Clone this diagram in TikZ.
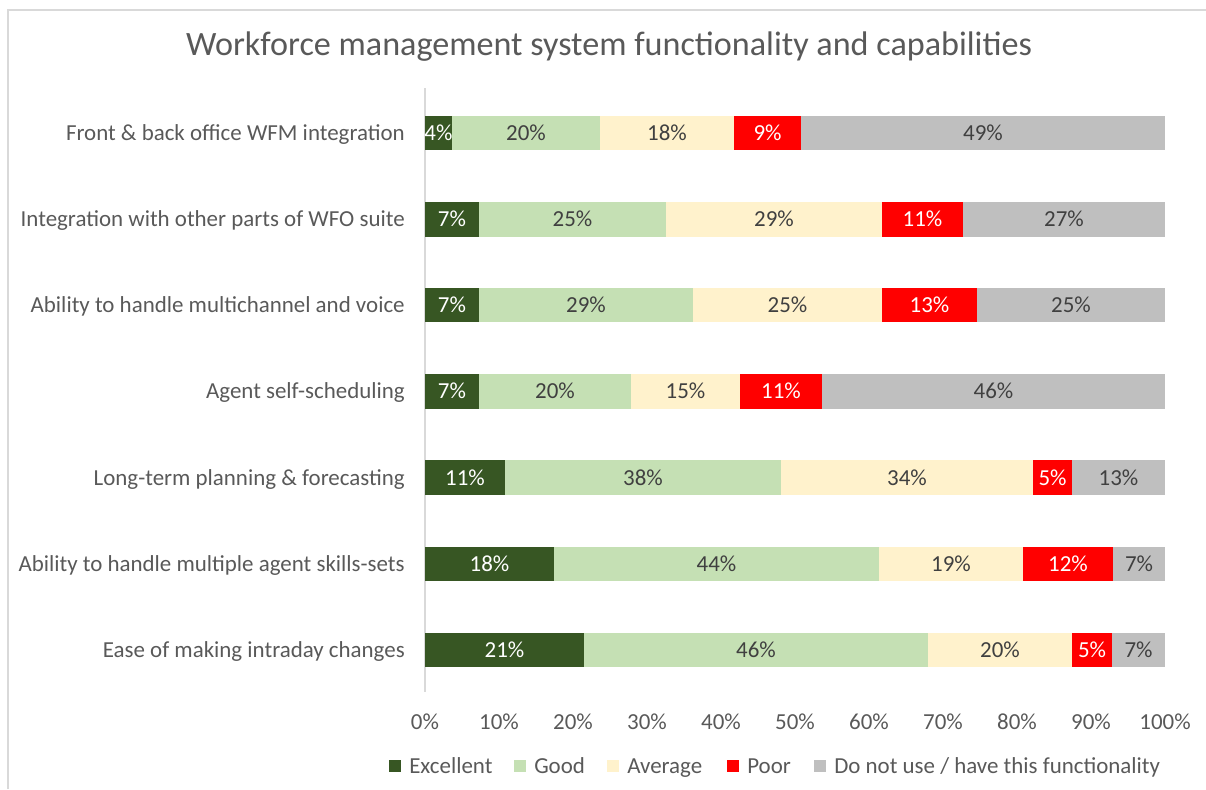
\documentclass[tikz,border=0pt]{standalone}
\usepackage{fontspec}
\setmainfont{Carlito}
\definecolor{excgreen}{HTML}{375623}
\definecolor{goodgreen}{HTML}{C5E0B4}
\definecolor{avgcream}{HTML}{FFF2CC}
\definecolor{poorred}{HTML}{FF0000}
\definecolor{nousegray}{HTML}{BFBFBF}
\definecolor{txtgray}{HTML}{595959}
\definecolor{valdark}{HTML}{404040}
\definecolor{framegray}{HTML}{D9D9D9}
\tikzset{
  exc/.style={fill=excgreen},
  good/.style={fill=goodgreen},
  avg/.style={fill=avgcream},
  poor/.style={fill=poorred},
  nouse/.style={fill=nousegray},
  lbl/.style={inner sep=0pt, text height=11.3pt, text depth=0pt},
  vw/.style={lbl, text=white},
  vd/.style={lbl, text=valdark},
  cat/.style={lbl, text=txtgray, anchor=east},
  tick/.style={lbl, text=txtgray},
  key/.style={text=txtgray, anchor=base west, inner sep=0pt},
}
\begin{document}
\begin{tikzpicture}[x=0.75pt, y=-0.75pt, font=\fontsize{17.2}{20}\selectfont]
  \useasboundingbox (0,0) rectangle (1206,789);
  \draw[framegray, line width=1.5] (8,789) -- (8,10) -- (1206,10);

  \node[text=txtgray, font=\fontsize{25.6}{30}\selectfont] (title) at (609,47) {Workforce management system functionality and capabilities};

  % value axis
  \draw[framegray, line width=1.2] (425,88) -- (425,692);
  \node[tick] (t0) at (425,722) {0\%};
  \node[tick] (t10) at (499,722) {10\%};
  \node[tick] (t20) at (573,722) {20\%};
  \node[tick] (t30) at (647,722) {30\%};
  \node[tick] (t40) at (721,722) {40\%};
  \node[tick] (t50) at (795,722) {50\%};
  \node[tick] (t60) at (869,722) {60\%};
  \node[tick] (t70) at (943,722) {70\%};
  \node[tick] (t80) at (1017,722) {80\%};
  \node[tick] (t90) at (1091,722) {90\%};
  \node[tick] (t100) at (1165,722) {100\%};

  % categories
  \node[cat] (c1) at (405,133) {Front \& back office WFM integration};
  \node[cat] (c2) at (405,219.3) {Integration with other parts of WFO suite};
  \node[cat] (c3) at (405,305.2) {Ability to handle multichannel and voice};
  \node[cat] (c4) at (405,391.3) {Agent self-scheduling};
  \node[cat] (c5) at (405,477.6) {Long-term planning \& forecasting};
  \node[cat] (c6) at (405,563.9) {Ability to handle multiple agent skills-sets};
  \node[cat] (c7) at (405,650) {Ease of making intraday changes};

  % bars
  \fill[exc] (425,115.8) rectangle (452,150.2) node[vw] (b1a) at (438.5,133) {4\%};
  \fill[good] (452,115.8) rectangle (600,150.2) node[vd] (b1b) at (526,133) {20\%};
  \fill[avg] (600,115.8) rectangle (734,150.2) node[vd] (b1c) at (667,133) {18\%};
  \fill[poor] (734,115.8) rectangle (801,150.2) node[vw] (b1d) at (767.5,133) {9\%};
  \fill[nouse] (801,115.8) rectangle (1165,150.2) node[vd] (b1e) at (983,133) {49\%};

  \fill[exc] (425,202.1) rectangle (479,236.5) node[vw] (b2a) at (452,219.3) {7\%};
  \fill[good] (479,202.1) rectangle (666,236.5) node[vd] (b2b) at (572.5,219.3) {25\%};
  \fill[avg] (666,202.1) rectangle (882,236.5) node[vd] (b2c) at (774,219.3) {29\%};
  \fill[poor] (882,202.1) rectangle (963,236.5) node[vw] (b2d) at (922.5,219.3) {11\%};
  \fill[nouse] (963,202.1) rectangle (1165,236.5) node[vd] (b2e) at (1064,219.3) {27\%};

  \fill[exc] (425,288) rectangle (479,322.4) node[vw] (b3a) at (452,305.2) {7\%};
  \fill[good] (479,288) rectangle (693,322.4) node[vd] (b3b) at (586,305.2) {29\%};
  \fill[avg] (693,288) rectangle (882,322.4) node[vd] (b3c) at (787.5,305.2) {25\%};
  \fill[poor] (882,288) rectangle (977,322.4) node[vw] (b3d) at (929.5,305.2) {13\%};
  \fill[nouse] (977,288) rectangle (1165,322.4) node[vd] (b3e) at (1071,305.2) {25\%};

  \fill[exc] (425,374.1) rectangle (479,408.5) node[vw] (b4a) at (452,391.3) {7\%};
  \fill[good] (479,374.1) rectangle (631,408.5) node[vd] (b4b) at (555,391.3) {20\%};
  \fill[avg] (631,374.1) rectangle (740,408.5) node[vd] (b4c) at (685.5,391.3) {15\%};
  \fill[poor] (740,374.1) rectangle (822,408.5) node[vw] (b4d) at (781,391.3) {11\%};
  \fill[nouse] (822,374.1) rectangle (1165,408.5) node[vd] (b4e) at (993.5,391.3) {46\%};

  \fill[exc] (425,460.4) rectangle (505,494.8) node[vw] (b5a) at (465,477.6) {11\%};
  \fill[good] (505,460.4) rectangle (781,494.8) node[vd] (b5b) at (643,477.6) {38\%};
  \fill[avg] (781,460.4) rectangle (1033,494.8) node[vd] (b5c) at (907,477.6) {34\%};
  \fill[poor] (1033,460.4) rectangle (1072,494.8) node[vw] (b5d) at (1052.5,477.6) {5\%};
  \fill[nouse] (1072,460.4) rectangle (1165,494.8) node[vd] (b5e) at (1118.5,477.6) {13\%};

  \fill[exc] (425,546.7) rectangle (554,581.1) node[vw] (b6a) at (489.5,563.9) {18\%};
  \fill[good] (554,546.7) rectangle (879,581.1) node[vd] (b6b) at (716.5,563.9) {44\%};
  \fill[avg] (879,546.7) rectangle (1023,581.1) node[vd] (b6c) at (951,563.9) {19\%};
  \fill[poor] (1023,546.7) rectangle (1113,581.1) node[vw] (b6d) at (1068,563.9) {12\%};
  \fill[nouse] (1113,546.7) rectangle (1165,581.1) node[vd] (b6e) at (1139,563.9) {7\%};

  \fill[exc] (425,632.8) rectangle (584,667.2) node[vw] (b7a) at (504.5,650) {21\%};
  \fill[good] (584,632.8) rectangle (928,667.2) node[vd] (b7b) at (756,650) {46\%};
  \fill[avg] (928,632.8) rectangle (1072,667.2) node[vd] (b7c) at (1000,650) {20\%};
  \fill[poor] (1072,632.8) rectangle (1112,667.2) node[vw] (b7d) at (1092,650) {5\%};
  \fill[nouse] (1112,632.8) rectangle (1165,667.2) node[vd] (b7e) at (1138.5,650) {7\%};

  % legend
  \fill[exc] (389,760) rectangle (401,772);
  \node[key] (k1) at (409,773) {Excellent};
  \fill[good] (514,760) rectangle (526,772);
  \node[key] (k2) at (534,773) {Good};
  \fill[avg] (607,760) rectangle (619,772);
  \node[key] (k3) at (627,773) {Average};
  \fill[poor] (727,760) rectangle (739,772);
  \node[key] (k4) at (747,773) {Poor};
  \fill[nouse] (814,760) rectangle (826,772);
  \node[key] (k5) at (834,773) {Do not use / have this functionality};
\end{tikzpicture}
\end{document}
